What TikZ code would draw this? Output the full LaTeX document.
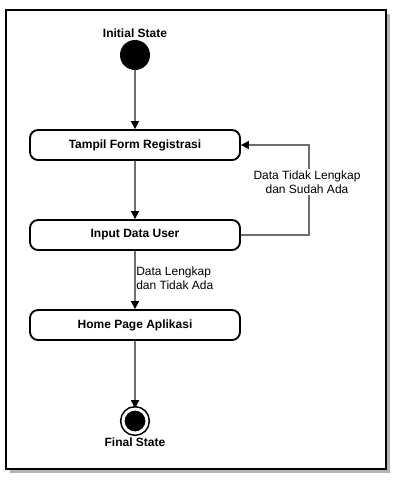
\documentclass[tikz,border=0pt]{standalone}
\usepackage{fontspec}
\setmainfont{Liberation Sans}
\usetikzlibrary{arrows.meta}
\definecolor{flowgray}{RGB}{110,110,110}
\definecolor{shadowgray}{RGB}{180,180,180}
\begin{document}
\begin{tikzpicture}[x=0.75pt,y=-0.75pt]
\useasboundingbox (0,0) rectangle (406,490);
\tikzstyle{every node}=[font=\fontsize{9}{10.5}\selectfont];
\tikzset{
  activity/.style={draw,line width=1.4pt,rounded corners=6pt,fill=white,
    minimum width=157.5pt,minimum height=22.5pt,font=\fontsize{9}{10.5}\selectfont\bfseries},
  startstate/.style={circle,fill=black,minimum size=22.5pt,inner sep=0pt},
  finalstate/.style={circle,fill=black,draw=black,line width=1.2pt,double=white,
    double distance=2.2pt,minimum size=18pt,inner sep=0pt},
  statelabel/.style={font=\fontsize{9}{10.5}\selectfont\bfseries},
  flow/.style={draw=flowgray,line width=1.2pt,-{Triangle[length=6pt,width=6pt,black]}},
  guard/.style={align=center}
}
% frame with shadow
\fill[shadowgray] (10,14) rectangle (390,473);
\draw[line width=1.5pt,fill=white] (6,10) rectangle (386,469);

\draw (135,33) node[statelabel] (lblinit) {Initial State};
\draw (135,55) node[startstate] (init) {};
\draw (135,145) node[activity] (form) {Tampil Form Registrasi};
\draw (135,235) node[activity] (input) {Input Data User};
\draw (135,325) node[activity] (home) {Home Page Aplikasi};
\draw (135,421) node[finalstate] (final) {};
\draw (135,442) node[statelabel] (lblfinal) {Final State};

\draw (init) edge [flow] (form);
\draw (form) edge [flow] (input);
\draw (input) edge [flow] (home);
\draw (home) edge [flow] (final);
\draw[flow] (input.east) -- ++(68,0) |- (form.east);

\draw (307,182) node[guard,fill=white,inner sep=1pt] (lblloop) {Data Tidak Lengkap\\dan Sudah Ada};
\draw (136,278) node[guard,align=left,anchor=west,inner sep=0pt] (lbldone) {Data Lengkap\\dan Tidak Ada};
\end{tikzpicture}
\end{document}
